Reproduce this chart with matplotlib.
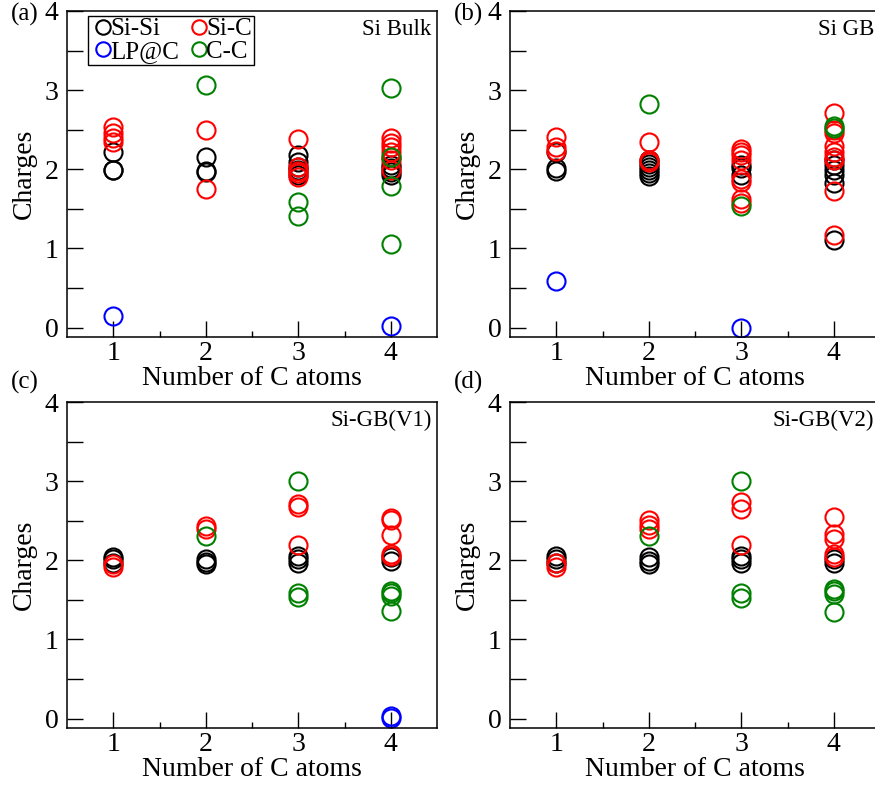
import matplotlib
matplotlib.use('Agg')
import matplotlib.pyplot as plt
from matplotlib.ticker import MultipleLocator, FixedLocator

plt.rcParams['font.family'] = ['Liberation Serif', 'DejaVu Serif']
plt.rcParams['mathtext.fontset'] = 'stix'

# bond charges per number of C atoms, one list of (x, charge) per bond type
# (a) Si bulk
bulk_sisi = [(1, 2.22), (1, 1.99), (1, 1.99),
             (2, 2.15), (2, 1.98), (2, 1.96),
             (3, 2.18), (3, 2.09), (3, 2.03), (3, 1.99), (3, 1.93),
             (4, 2.05), (4, 2.01), (4, 1.97), (4, 1.93)]
bulk_sic = [(1, 2.53), (1, 2.46), (1, 2.40), (1, 2.34),
            (2, 2.49), (2, 1.75),
            (3, 2.38), (3, 2.03), (3, 1.98), (3, 1.95), (3, 1.90),
            (4, 2.39), (4, 2.33), (4, 2.28), (4, 2.22), (4, 2.16), (4, 2.12), (4, 1.99)]
bulk_lp = [(1, 0.14), (4, 0.02)]
bulk_cc = [(2, 3.06), (3, 1.58), (3, 1.41),
           (4, 3.03), (4, 2.15), (4, 1.79), (4, 1.05)]

# (b) Si GB
gb_sisi = [(1, 2.22), (1, 2.01), (1, 1.98),
           (2, 2.12), (2, 2.07), (2, 2.03), (2, 1.99), (2, 1.95), (2, 1.91),
           (3, 2.05), (3, 2.01), (3, 1.93),
           (4, 2.12), (4, 2.05), (4, 1.99), (4, 1.93), (4, 1.83), (4, 1.11)]
gb_sic = [(1, 2.41), (1, 2.28), (1, 2.23),
          (2, 2.35), (2, 2.12), (2, 2.09),
          (3, 2.26), (3, 2.22), (3, 2.18), (3, 2.12), (3, 1.88), (3, 1.84), (3, 1.63), (3, 1.57),
          (4, 2.71), (4, 2.49), (4, 2.46), (4, 2.30), (4, 2.22), (4, 2.16), (4, 2.12),
          (4, 1.73), (4, 1.17)]
gb_lp = [(1, 0.59), (3, 0.0)]
gb_cc = [(2, 2.82), (3, 1.53), (4, 2.55), (4, 2.52)]

# (c) Si-GB(V1)
v1_sisi = [(1, 2.04), (1, 2.01), (1, 1.97),
           (2, 2.02), (2, 1.98), (2, 1.95),
           (3, 2.06), (3, 2.01), (3, 1.97),
           (4, 2.04), (4, 1.99)]
v1_sic = [(1, 1.95), (1, 1.91),
          (2, 2.43), (2, 2.39),
          (3, 2.71), (3, 2.67), (3, 2.19),
          (4, 2.53), (4, 2.51), (4, 2.32), (4, 2.08), (4, 2.06)]
v1_lp = [(4, 0.03), (4, 0.01)]
v1_cc = [(2, 2.31), (3, 3.00), (3, 1.58), (3, 1.53),
         (4, 1.61), (4, 1.58), (4, 1.55), (4, 1.36)]

# (d) Si-GB(V2)
v2_sisi = [(1, 2.06), (1, 2.01), (1, 1.97),
           (2, 2.04), (2, 1.99), (2, 1.95),
           (3, 2.06), (3, 2.01), (3, 1.97),
           (4, 2.01), (4, 1.97)]
v2_sic = [(1, 1.96), (1, 1.91),
          (2, 2.51), (2, 2.44), (2, 2.40),
          (3, 2.74), (3, 2.65), (3, 2.19),
          (4, 2.55), (4, 2.33), (4, 2.27), (4, 2.08), (4, 2.04)]
v2_lp = []
v2_cc = [(2, 2.31), (3, 3.00), (3, 1.59), (3, 1.52),
         (4, 1.64), (4, 1.61), (4, 1.57), (4, 1.35)]

panels = [
    ('(a)', 'Si Bulk', [bulk_sisi, bulk_sic, bulk_lp, bulk_cc]),
    ('(b)', 'Si GB', [gb_sisi, gb_sic, gb_lp, gb_cc]),
    ('(c)', 'Si-GB(V1)', [v1_sisi, v1_sic, v1_lp, v1_cc]),
    ('(d)', 'Si-GB(V2)', [v2_sisi, v2_sic, v2_lp, v2_cc]),
]
series_names = ['Si-Si', 'Si-C', 'LP@C', 'C-C']
series_colors = ['black', 'red', 'blue', 'green']

W, H = 875, 792
fig = plt.figure(figsize=(W / 100, H / 100), dpi=100)

# axes boxes in pixels: left, top, y of the panel tag
boxes = [(67, 11, 14), (510, 11, 14), (67, 402, 382), (510, 402, 382)]
ax_w, ax_h = 370, 326

for (tag, title, series), (left, top, tag_y) in zip(panels, boxes):
    ax = fig.add_axes([left / W, 1 - (top + ax_h) / H, ax_w / W, ax_h / H])
    handles = {}
    for pts, name, col in zip(series, series_names, series_colors):
        xs = [p[0] for p in pts]
        ys = [p[1] for p in pts]
        h, = ax.plot(xs, ys, 'o', mfc='none', mec=col, ms=13, mew=1.5,
                     linestyle='none', label=name)
        handles[name] = h

    ax.set_xlim(0.5, 4.5)
    ax.set_ylim(-0.12, 4)
    ax.xaxis.set_major_locator(FixedLocator([1, 2, 3, 4]))
    ax.xaxis.set_minor_locator(FixedLocator([1.5, 2.5, 3.5]))
    ax.yaxis.set_major_locator(MultipleLocator(1))
    ax.yaxis.set_minor_locator(MultipleLocator(0.5))
    ax.tick_params(axis='x', which='major', direction='in', length=11.5,
                   width=1, labelsize=20, pad=3)
    ax.tick_params(axis='x', which='minor', direction='in', length=4, width=1)
    ax.tick_params(axis='y', which='both', direction='in', length=11.5,
                   width=1, labelsize=20, pad=6)
    for sp in ax.spines.values():
        sp.set_linewidth(1.1)

    ax.set_xlabel('Number of C atoms', fontsize=20, labelpad=0)
    ax.set_ylabel('Charges', fontsize=20, labelpad=6)
    ax.text(0.985, 0.975, title, transform=ax.transAxes, ha='right', va='top',
            fontsize=16.5)
    fig.text((left - 56) / W, 1 - tag_y / H, tag, ha='left', va='center',
             fontsize=18)

    if tag == '(a)':
        # two columns, filled column by column
        order = ['Si-Si', 'LP@C', 'Si-C', 'C-C']
        leg = ax.legend(handles=[handles[n] for n in order], ncol=2,
                        loc='upper left', bbox_to_anchor=(0.057, 0.985),
                        fontsize=18, handletextpad=-0.2, columnspacing=0.3,
                        handlelength=1.0, borderpad=0.08, labelspacing=0.0,
                        borderaxespad=0.0, fancybox=False, edgecolor='black',
                        framealpha=1, markerscale=0.8)
        leg.get_frame().set_linewidth(1.0)

fig.savefig('out.png', dpi=100)
